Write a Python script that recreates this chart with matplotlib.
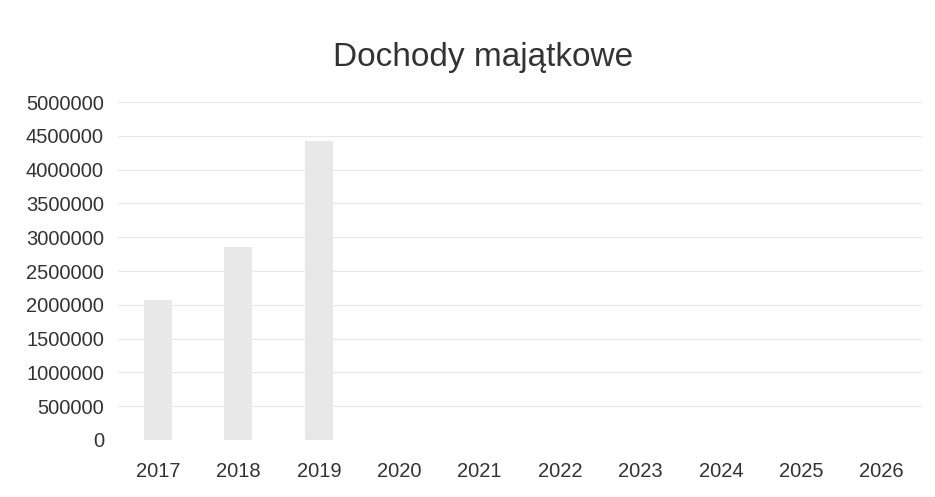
import numpy as np
import matplotlib
matplotlib.use("Agg")
import matplotlib.pyplot as plt

plt.rcParams['font.family'] = ['Liberation Sans', 'DejaVu Sans']

years = ['2017', '2018', '2019', '2020', '2021', '2022', '2023', '2024', '2025', '2026']
dochody = [2070000, 2860000, 4420000, 0, 0, 0, 0, 0, 0, 0]
y_ticks = [0, 500000, 1000000, 1500000, 2000000, 2500000, 3000000,
           3500000, 4000000, 4500000, 5000000]

fig = plt.figure(figsize=(9.35, 4.97), dpi=100)
ax = fig.add_axes([0.126, 0.1147, 0.86, 0.68])

x = np.arange(len(years))
ax.bar(x, dochody, width=0.35, color='#e8e8e8', zorder=2)

ax.set_xlim(-0.5, len(years) - 0.5)
ax.set_ylim(0, 5000000)
ax.set_yticks(y_ticks)
ax.set_yticklabels([str(v) for v in y_ticks])
ax.set_xticks(x)
ax.set_xticklabels(years)
ax.yaxis.grid(True, color='#e8e8e8', linewidth=0.9, zorder=0)
ax.set_axisbelow(True)
for s in ax.spines.values():
    s.set_visible(False)
ax.tick_params(axis='both', length=0, labelsize=14.5, colors='#333333')
ax.tick_params(axis='y', pad=10)
ax.tick_params(axis='x', pad=16)

fig.text(0.517, 0.885, 'Dochody majątkowe', ha='center', va='center',
         fontsize=24, color='#333333')

fig.savefig('out.png', dpi=100, facecolor='white')
